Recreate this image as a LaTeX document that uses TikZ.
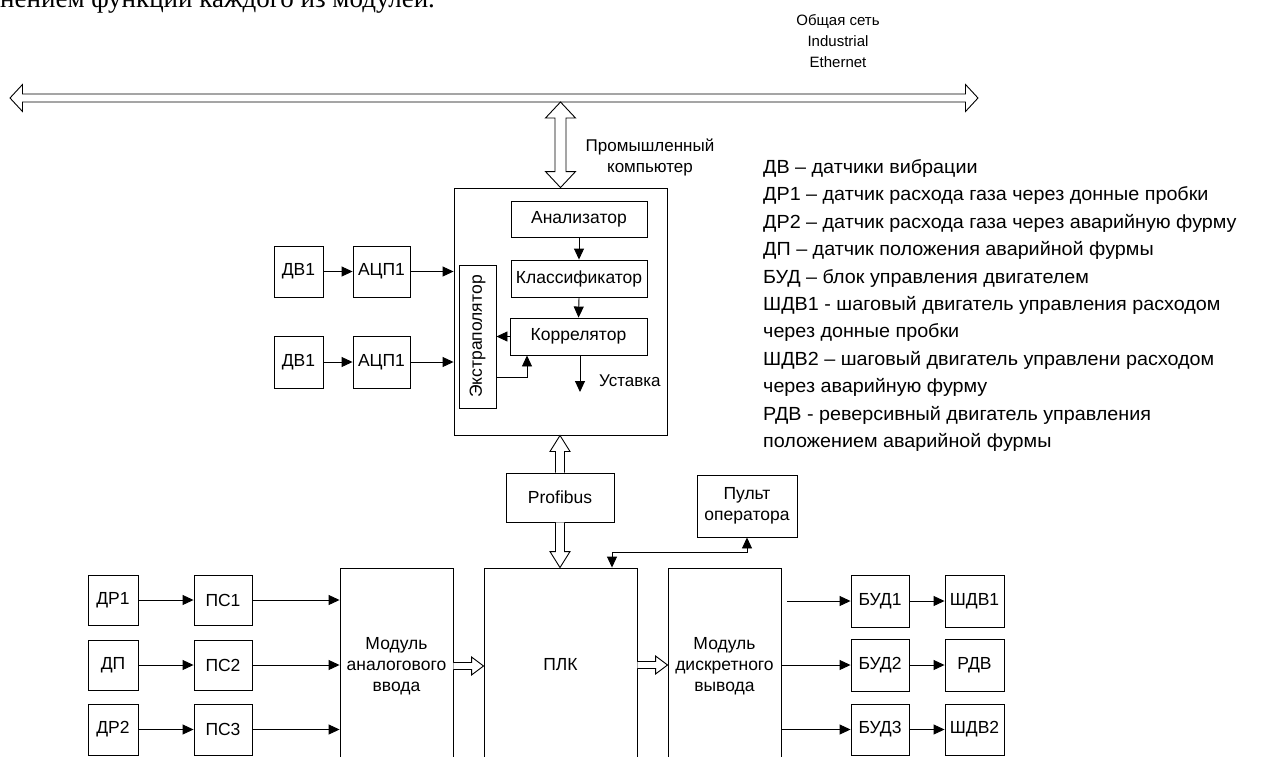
\documentclass[tikz,border=0pt]{standalone}
\usepackage{fontspec}
\setmainfont{Liberation Sans}
\newfontfamily\bodyserif{Liberation Serif}
\newfontfamily\legendfont[FakeStretch=1.04]{Liberation Sans}
\usetikzlibrary{arrows.meta,calc}
\newcommand\hArrowBoth[5]{\draw[hollow] let \p1=#1, \p2=#2 in
 (\x1,\y1) -- (\x1+#5pt,\y1+#4pt) -- (\x1+#5pt,\y1+#3pt) -- (\x2-#5pt,\y1+#3pt) -- (\x2-#5pt,\y1+#4pt) -- (\x2,\y1)
 -- (\x2-#5pt,\y1-#4pt) -- (\x2-#5pt,\y1-#3pt) -- (\x1+#5pt,\y1-#3pt) -- (\x1+#5pt,\y1-#4pt) -- cycle;}
\newcommand\hArrowEnd[5]{\draw[hollow] let \p1=#1, \p2=#2 in
 (\x1,\y1+#3pt) -- (\x2-#5pt,\y1+#3pt) -- (\x2-#5pt,\y1+#4pt) -- (\x2,\y1) -- (\x2-#5pt,\y1-#4pt) -- (\x2-#5pt,\y1-#3pt) -- (\x1,\y1-#3pt);}
\newcommand\vArrowBoth[5]{\draw[hollow] let \p1=#1, \p2=#2 in
 (\x1,\y1) -- (\x1+#4pt,\y1-#5pt) -- (\x1+#3pt,\y1-#5pt) -- (\x1+#3pt,\y2+#5pt) -- (\x1+#4pt,\y2+#5pt) -- (\x1,\y2)
 -- (\x1-#4pt,\y2+#5pt) -- (\x1-#3pt,\y2+#5pt) -- (\x1-#3pt,\y1-#5pt) -- (\x1-#4pt,\y1-#5pt) -- cycle;}
\newcommand\vArrowStart[5]{\draw[hollow] let \p1=#1, \p2=#2 in
 (\x1-#3pt,\y2) -- (\x1-#3pt,\y1-#5pt) -- (\x1-#4pt,\y1-#5pt) -- (\x1,\y1) -- (\x1+#4pt,\y1-#5pt) -- (\x1+#3pt,\y1-#5pt) -- (\x1+#3pt,\y2);}
\newcommand\vArrowEnd[5]{\draw[hollow] let \p1=#1, \p2=#2 in
 (\x1+#3pt,\y1) -- (\x1+#3pt,\y2+#5pt) -- (\x1+#4pt,\y2+#5pt) -- (\x1,\y2) -- (\x1-#4pt,\y2+#5pt) -- (\x1-#3pt,\y2+#5pt) -- (\x1-#3pt,\y1);}
\tikzset{
 box/.style={draw, line width=0.9pt, inner sep=0pt, align=center, font=\fontsize{17.5}{21}\selectfont},
 arr/.style={line width=0.9pt, -{Triangle[length=11pt,width=10pt]}},
 arrboth/.style={line width=0.9pt, {Triangle[length=11pt,width=10pt]}-{Triangle[length=11pt,width=10pt]}},
 hollow/.style={line width=0.9pt, fill=white, line join=miter},
 lbl/.style={inner sep=0pt, align=center, font=\fontsize{17}{21}\selectfont},
 leg/.style={inner sep=0pt, anchor=base west, font=\legendfont\fontsize{19}{27}\selectfont}
}
\begin{document}
\begin{tikzpicture}[x=1pt,y=-1pt]
\useasboundingbox (0,0) rectangle (1278,756);
\clip (0,0) rectangle (1278,756);
% cut-off body text
\node[inner sep=0pt, anchor=base west, font=\bodyserif\fontsize{27}{30}\selectfont] (bodytxt) at (0,7) {нением функций каждого из модулей.};
% bus
\coordinate (busL) at (10,98);
\coordinate (busR) at (978,98);
\hArrowBoth{(busL)}{(busR)}{4}{13.5}{12.5}
\node[lbl, font=\fontsize{15}{21}\selectfont] (netlbl) at (838,41) {Общая сеть\\Industrial\\Ethernet};
% computer
\node[box, minimum width=213pt, minimum height=247pt] (comp) at (560.5,311.5) {};
\coordinate (bustap) at (560.5,102);
\vArrowBoth{(bustap)}{(comp.north)}{5.5}{15}{16}
\node[lbl] (pclbl) at (650,157) {Промышленный\\компьютер};
\node[box, minimum width=136pt, minimum height=36pt] (an) at (579,219) {Анализатор};
\node[box, minimum width=136pt, minimum height=37pt] (cl) at (579,278.5) {Классификатор};
\node[box, minimum width=137pt, minimum height=37pt] (cor) at (578.5,336.5) {Коррелятор};
\node[box, minimum width=37pt, minimum height=143pt] (ex) at (477.5,336.5) {\rotatebox{90}{Экстраполятор}};
\draw[arr] (an.south) -- (cl.north);
\draw[arr] (cl.south) -- (cor.north);
\draw[arr] (cor.west) -- (cor.west -| ex.east);
\draw[arr] ([yshift=-40.5pt]ex.east) -| ([xshift=-51.5pt]cor.south);
\coordinate (ust) at (580,392);
\draw[arr] (cor.south -| ust) -- (ust);
\node[lbl, anchor=west] (ustlbl) at (599,381) {Уставка};
% sensors
\node[box, minimum width=49pt, minimum height=51pt] (dv1) at (298.5,271.5) {ДВ1};
\node[box, minimum width=57pt, minimum height=51pt] (adc1) at (381.5,271.5) {АЦП1};
\node[box, minimum width=49pt, minimum height=52pt] (dv2) at (298.5,362) {ДВ1};
\node[box, minimum width=57pt, minimum height=52pt] (adc2) at (381.5,362) {АЦП1};
\draw[arr] (dv1) -- (adc1);
\draw[arr] (dv2) -- (adc2);
\draw[arr] (adc1.east) -- (adc1.east -| comp.west);
\draw[arr] (adc2.east) -- (adc2.east -| comp.west);
% profibus
\node[box, minimum width=108pt, minimum height=49pt] (prof) at (560,497.5) {Profibus};
\vArrowStart{(comp.south -| prof.north)}{(prof.north)}{4.5}{10}{16}
\node[box, minimum width=100pt, minimum height=62pt] (pult) at (747,506) {Пульт\\оператора};
% bottom row
\node[box, minimum width=153pt, minimum height=194pt] (plc) at (560.5,665) {ПЛК};
\vArrowEnd{(prof.south)}{(prof.south |- plc.north)}{4.5}{10}{16}
\draw[arrboth] (pult.south) -- ++(0,15) -| ([xshift=51.5pt]plc.north);
\node[box, minimum width=113pt, minimum height=196pt] (mai) at (396.5,666) {Модуль\\аналогового\\ввода};
\node[box, minimum width=113pt, minimum height=196pt] (mdo) at (724.5,666) {Модуль\\дискретного\\вывода};
\hArrowEnd{(mai.east)}{(plc.west)}{3.5}{9}{12}
\hArrowEnd{(plc.east)}{(mdo.west)}{3.5}{9}{12}
\node[box, minimum width=50pt, minimum height=50pt] (dr1) at (113,600) {ДР1};
\node[box, minimum width=58pt, minimum height=50pt] (ps1) at (223,600) {ПС1};
\node[box, minimum width=50pt, minimum height=50pt] (dp) at (113,665) {ДП};
\node[box, minimum width=58pt, minimum height=50pt] (ps2) at (223,665) {ПС2};
\node[box, minimum width=50pt, minimum height=51pt] (dr2) at (113,729.5) {ДР2};
\node[box, minimum width=58pt, minimum height=51pt] (ps3) at (223,729.5) {ПС3};
\draw[arr] (dr1) -- (ps1);
\draw[arr] (dp) -- (ps2);
\draw[arr] (dr2) -- (ps3);
\draw[arr] (ps1.east) -- (ps1.east -| mai.west);
\draw[arr] (ps2.east) -- (ps2.east -| mai.west);
\draw[arr] (ps3.east) -- (ps3.east -| mai.west);
\node[box, minimum width=58pt, minimum height=52pt] (bud1) at (880,601) {БУД1};
\node[box, minimum width=59pt, minimum height=52pt] (shdv1) at (974.5,601) {ШДВ1};
\node[box, minimum width=58pt, minimum height=52pt] (bud2) at (880,665) {БУД2};
\node[box, minimum width=59pt, minimum height=52pt] (rdv) at (974.5,665) {РДВ};
\node[box, minimum width=58pt, minimum height=51pt] (bud3) at (880,729.5) {БУД3};
\node[box, minimum width=59pt, minimum height=51pt] (shdv2) at (974.5,729.5) {ШДВ2};
\draw[arr] ([xshift=6pt]mdo.east |- bud1.west) -- (bud1.west);
\draw[arr] (mdo.east |- bud2.west) -- (bud2.west);
\draw[arr] (mdo.east |- bud3.west) -- (bud3.west);
\draw[arr] (bud1) -- (shdv1);
\draw[arr] (bud2) -- (rdv);
\draw[arr] (bud3) -- (shdv2);
% legend
\foreach \t [count=\i from 0] in {ДВ – датчики вибрации,
 ДР1 – датчик расхода газа через донные пробки,
 ДР2 – датчик расхода газа через аварийную фурму,
 ДП – датчик положения аварийной фурмы,
 БУД – блок управления двигателем,
 ШДВ1 - шаговый двигатель управления расходом,
 через донные пробки,
 ШДВ2 – шаговый двигатель управлени расходом,
 через аварийную фурму,
 РДВ - реверсивный двигатель управления,
 положением аварийной фурмы}
 \node[leg] (leg\i) at (763,173.5+27.4*\i) {\t};
\end{tikzpicture}
\end{document}
